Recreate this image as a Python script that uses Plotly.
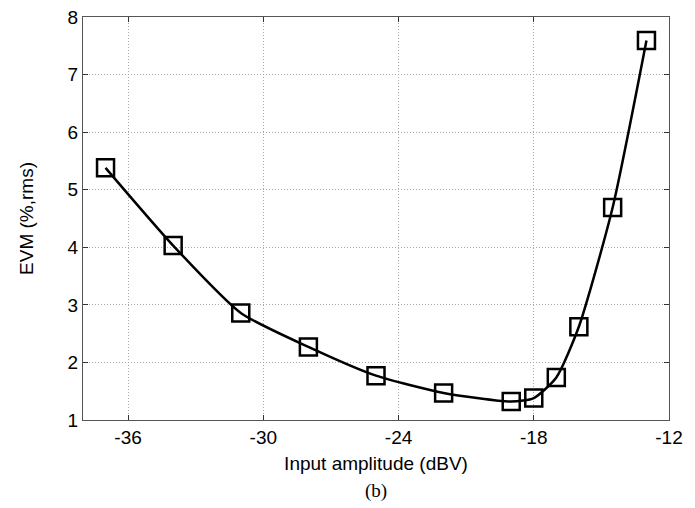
import plotly.graph_objects as go

input_dbv = [-37, -34, -31, -28, -25, -22, -19, -18, -17, -16, -14.5, -13]
evm_rms = [5.38, 4.03, 2.86, 2.27, 1.77, 1.47, 1.32, 1.38, 1.74, 2.62, 4.69, 7.59]
x_ticks = [-36, -30, -24, -18, -12]
y_ticks = [1, 2, 3, 4, 5, 6, 7, 8]

fig = go.Figure()
fig.add_trace(go.Scatter(
    x=input_dbv, y=evm_rms, mode="lines+markers",
    line=dict(color="black", width=2.5, shape="spline", smoothing=0.6),
    marker=dict(symbol="square-open", size=17, color="black", line=dict(width=2.5, color="black")),
    showlegend=False,
))

sans = "Liberation Sans, Arial, Helvetica"
axis_common = dict(
    showline=True, linecolor="#555555", linewidth=1.2, mirror="allticks",
    ticks="inside", ticklen=5, tickcolor="#333333",
    showgrid=True, gridcolor="#a8a8a8", griddash="1px,2px", gridwidth=1,
    zeroline=False, automargin=False, ticklabeloverflow="allow",
    tickfont=dict(family=sans, size=19, color="black"),
)

fig.update_layout(
    width=687, height=500,
    margin=dict(l=75, r=26, t=9, b=88),
    paper_bgcolor="white", plot_bgcolor="white",
    xaxis=dict(range=[-38, -12], tickvals=x_ticks, ticktext=[str(v) for v in x_ticks],
               title=dict(text="Input amplitude (dBV)", standoff=9,
                          font=dict(family=sans, size=19, color="black")),
               **axis_common),
    yaxis=dict(range=[1, 8], tickvals=y_ticks,
               title=dict(text="EVM (%,rms)", standoff=28,
                          font=dict(family=sans, size=19, color="black")),
               **axis_common),
    annotations=[dict(text="(b)", x=0.5, y=-0.175, xref="paper", yref="paper",
                      xanchor="center", yanchor="middle", showarrow=False,
                      font=dict(family="Liberation Serif, Times New Roman", size=19, color="black"))],
)

fig.write_html("out.html")
